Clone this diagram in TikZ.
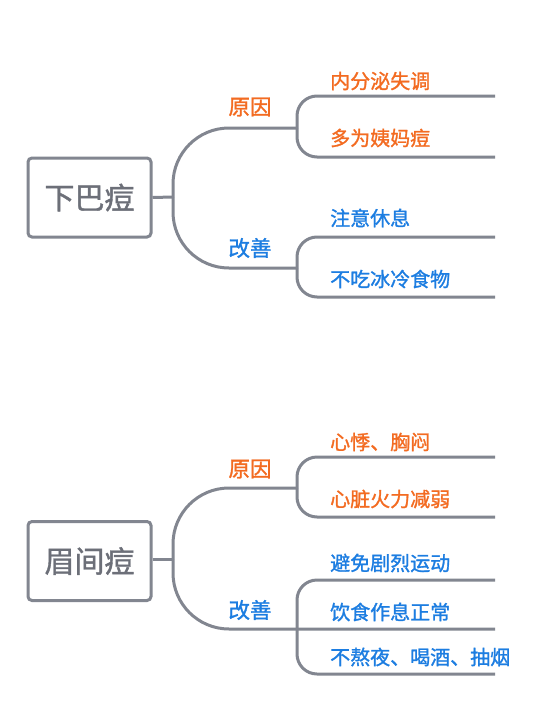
\documentclass[tikz,border=0pt]{standalone}
\usepackage{fontspec}
\setmainfont{Noto Sans CJK SC}
\newfontfamily\medfont[FakeBold=1.3]{Noto Sans CJK SC}
\definecolor{lgray}{RGB}{130,134,144}
\definecolor{tgray}{RGB}{108,111,120}
\definecolor{orng}{RGB}{243,107,33}
\definecolor{blu}{RGB}{28,125,225}
\tikzset{
  conn/.style={draw=lgray, line width=3pt},
  topic/.style={draw=lgray, line width=3pt, rounded corners=4pt, minimum width=123pt, minimum height=79pt, text=tgray, font=\medfont\fontsize{30}{32}\selectfont, inner sep=0pt},
  lbl/.style={font=\medfont\fontsize{21.5}{24}\selectfont, inner sep=0pt},
  leaf/.style={font=\medfont\fontsize{20}{22}\selectfont, inner sep=0pt, anchor=west},
}
\begin{document}
\begin{tikzpicture}[x=1pt,y=-1pt]
\useasboundingbox[fill=white] (0,0) rectangle (552,728);

% ---------- diagram 1 ----------
\node[topic] (A) at (89.5,197.5) {下巴痘};
\coordinate (Aj) at (173,197);
\coordinate (Ar) at (297,128);
\coordinate (Ag) at (297,268);
\draw[conn] (A.east) -- (Aj);
\draw[conn, rounded corners=56pt] (Ar) -| (Aj);
\draw[conn, rounded corners=56pt] (Aj) |- (Ag);
\node[lbl, text=orng] (A1) at (250,107) {原因};
\node[lbl, text=blu] (A2) at (250,248) {改善};
% reason bracket
\coordinate (A1t) at (495,96);
\coordinate (A1b) at (495,157);
\draw[conn, rounded corners=20pt] (A1t) -| (Ar);
\draw[conn, rounded corners=20pt] (Ar) |- (A1b);
\node[leaf, text=orng] (A11) at (330,81) {内分泌失调};
\node[leaf, text=orng] (A12) at (330,138) {多为姨妈痘};
% improve bracket
\coordinate (A2t) at (495,237);
\coordinate (A2b) at (495,297);
\draw[conn, rounded corners=20pt] (A2t) -| (Ag);
\draw[conn, rounded corners=20pt] (Ag) |- (A2b);
\node[leaf, text=blu] (A21) at (330,218) {注意休息};
\node[leaf, text=blu] (A22) at (330,279) {不吃冰冷食物};

% ---------- diagram 2 ----------
\node[topic] (B) at (89.5,561) {眉间痘};
\coordinate (Bj) at (173,559);
\coordinate (Br) at (297,488);
\coordinate (Bg) at (297,629);
\coordinate (Bm) at (495,629);
\draw[conn] (B.east |- Bj) -- (Bj);
\draw[conn, rounded corners=56pt] (Br) -| (Bj);
\draw[conn, rounded corners=56pt] (Bj) |- (Bm);
\node[lbl, text=orng] (B1) at (250,469) {原因};
\node[lbl, text=blu] (B2) at (250,610) {改善};
% reason bracket
\coordinate (B1t) at (495,457);
\coordinate (B1b) at (495,517);
\draw[conn, rounded corners=20pt] (B1t) -| (Br);
\draw[conn, rounded corners=20pt] (Br) |- (B1b);
\node[leaf, text=orng] (B11) at (330,442) {心悸、胸闷};
\node[leaf, text=orng] (B12) at (330,499) {心脏火力减弱};
% improve bracket
\coordinate (B2t) at (495,580);
\coordinate (B2b) at (495,674);
\draw[conn, rounded corners=20pt] (B2t) -| (Bg);
\draw[conn, rounded corners=20pt] (Bg) |- (B2b);
\node[leaf, text=blu] (B21) at (330,563) {避免剧烈运动};
\node[leaf, text=blu] (B22) at (330,612) {饮食作息正常};
\node[leaf, text=blu] (B23) at (330,657) {不熬夜、喝酒、抽烟};
\end{tikzpicture}
\end{document}
